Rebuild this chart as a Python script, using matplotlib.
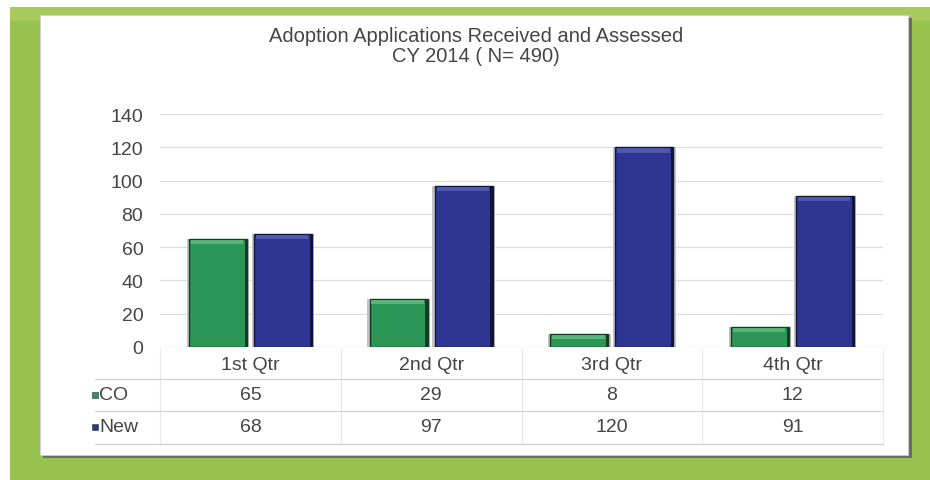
import numpy as np
import matplotlib
matplotlib.use("Agg")
import matplotlib.pyplot as plt
from matplotlib.patches import Rectangle
from matplotlib.lines import Line2D
from matplotlib.transforms import blended_transform_factory

# ---- data ----
categories = ["1st Qtr", "2nd Qtr", "3rd Qtr", "4th Qtr"]
series_names = ["CO", "New"]
co_values = [65, 29, 8, 12]
new_values = [68, 97, 120, 91]
title_lines = ["Adoption Applications Received and Assessed", "CY 2014 ( N= 490)"]
y_ticks = [0, 20, 40, 60, 80, 100, 120, 140]

W, H = 930, 481
plt.rcParams['font.family'] = ['Liberation Sans', 'DejaVu Sans']
fig = plt.figure(figsize=(W / 100, H / 100), dpi=100)
fig.patch.set_facecolor("white")

def fx(px):
    return px / W

def fy(py):
    return 1 - py / H

TXT = "#454545"
GREEN_BG = "#98c250"

# green frame
fig.add_artist(Rectangle((fx(10), 0), fx(W - 10), fy(8), transform=fig.transFigure,
                         facecolor=GREEN_BG, edgecolor="none", zorder=0))
fig.add_artist(Rectangle((fx(10), fy(22)), fx(W - 10), 14 / H, transform=fig.transFigure,
                         facecolor="#a8c95e", edgecolor="none", zorder=0))
# shadow of white panel
fig.add_artist(Rectangle((fx(43), fy(459)), fx(869), 440 / H, transform=fig.transFigure,
                         facecolor="#6b6b6b", edgecolor="none", zorder=1))
# white panel
fig.add_artist(Rectangle((fx(40), fy(456)), fx(868), 440 / H, transform=fig.transFigure,
                         facecolor="white", edgecolor="#cfcfcf", lw=0.6, zorder=2))

# title
fig.text(fx(476), fy(36), title_lines[0], ha="center", va="center", fontsize=14.5, color=TXT, zorder=5)
fig.text(fx(476), fy(57), title_lines[1], ha="center", va="center", fontsize=14.5, color=TXT, zorder=5)

# axes
ax_left, ax_right, ax_top, ax_bottom = 160, 883, 115, 348
ax = fig.add_axes([fx(ax_left), fy(ax_bottom), fx(ax_right - ax_left), (ax_bottom - ax_top) / H])
ax.set_zorder(3)
ax.patch.set_alpha(0)
ax.set_xlim(-0.5, len(categories) - 0.5)
ax.set_ylim(0, 140)
ax.set_yticks(y_ticks)
ax.set_yticklabels([str(t) for t in y_ticks], fontsize=14, color=TXT)
ax.tick_params(axis="y", length=0, pad=12)
ax.set_xticks([])
for s in ax.spines.values():
    s.set_visible(False)
ax.yaxis.grid(True, color="#dedede", lw=0.9)
ax.set_axisbelow(True)

x = np.arange(len(categories))
bw = 0.32
off = 0.18
series = [(co_values, "#2b9656", "#7fcf99", "#123d22"),
          (new_values, "#2e3692", "#6a74c8", "#10143f")]
for i, (vals, face, light, dark) in enumerate(series):
    pos = x + (-off if i == 0 else off)
    vals = np.array(vals, dtype=float)
    # soft gray outline/shadow
    ax.bar(pos, vals, width=bw + 0.025, color="#c4c4c4", zorder=2)
    ax.bar(pos, vals, width=bw, color=face, edgecolor=dark, lw=1.0, zorder=3)
    band = np.minimum(2.6, vals * 0.4)
    ax.bar(pos - 0.005, band, bottom=vals - band - 0.6, width=bw - 0.03, color=light,
           edgecolor="none", alpha=0.55, zorder=4)
    ax.bar(pos + bw / 2 - 0.006, vals, width=0.012, color=dark, edgecolor="none", zorder=4)

# ---- data table ----
bt = blended_transform_factory(ax.transData, fig.transFigure)
row_y = [366, 396, 428]
for xi, c in zip(x, categories):
    ax.text(xi, fy(row_y[0]), c, transform=bt, ha="center", va="center", fontsize=14, color=TXT,
            clip_on=False)
for r, vals in enumerate([co_values, new_values]):
    for xi, v in zip(x, vals):
        ax.text(xi, fy(row_y[r + 1]), str(v), transform=bt, ha="center", va="center",
                fontsize=14, color=TXT, clip_on=False)

for py in [380, 412, 445]:
    fig.add_artist(Line2D([fx(95), fx(ax_right)], [fy(py), fy(py)], transform=fig.transFigure,
                          color="#d2d2d2", lw=0.9, zorder=4))
for b in np.arange(len(categories) + 1) - 0.5:
    ax.add_line(Line2D([b, b], [fy(350), fy(445)], transform=bt, color="#e8e8e8", lw=0.8,
                       clip_on=False))

key_colors = ["#2b9656", "#2e3692"]
for r, (name, kc) in enumerate(zip(series_names, key_colors)):
    py = row_y[r + 1]
    fig.add_artist(Rectangle((fx(92), fy(py + 3)), fx(6), 6 / H, transform=fig.transFigure,
                             facecolor=kc, edgecolor="#333333", lw=0.4, zorder=5))
    fig.text(fx(99), fy(py), name, ha="left", va="center", fontsize=14, color=TXT, zorder=5)

fig.savefig("out.png", dpi=100)
